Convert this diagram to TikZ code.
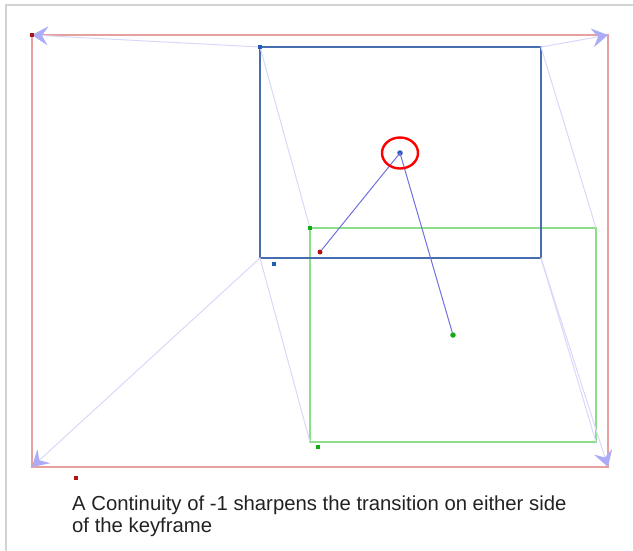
\documentclass[tikz,border=0pt]{standalone}
\usepackage{fontspec}
\setmainfont{Liberation Sans}
\usetikzlibrary{arrows.meta}
\definecolor{keyred}{RGB}{230,160,160}
\definecolor{keyblue}{RGB}{70,110,175}
\definecolor{keygreen}{RGB}{140,222,140}
\definecolor{tangent}{RGB}{216,216,250}
\definecolor{tipblue}{RGB}{172,172,246}
\definecolor{pathblue}{RGB}{112,112,222}
\definecolor{dotred}{RGB}{175,20,20}
\definecolor{dotblue}{RGB}{35,90,190}
\definecolor{dotgreen}{RGB}{20,170,20}
\definecolor{textgray}{RGB}{34,34,34}

\begin{document}
\begin{tikzpicture}[x=1pt,y=-1pt,>={Stealth[length=16pt,width=19pt,inset=6pt,color=tipblue]},line cap=round,
  handle/.style={draw=tangent,line width=1pt},
  sqdot/.style={rectangle,inner sep=0pt,minimum size=4.5pt},
  rddot/.style={circle,inner sep=0pt,minimum size=5.5pt}]
\useasboundingbox (0,0) rectangle (633,550);
\draw[gray!35,line width=2pt] (6,550) -- (6,5) -- (633,5);
\coordinate (rTL) at (32,35);
\coordinate (rTR) at (608,35);
\coordinate (rBL) at (32,467);
\coordinate (rBR) at (608,467);
\coordinate (bTL) at (260,47);
\coordinate (bTR) at (541,47);
\coordinate (bBL) at (260,258);
\coordinate (bBR) at (541,258);
\coordinate (gTL) at (310,228);
\coordinate (gTR) at (596,228);
\coordinate (gBL) at (310,442);
\coordinate (gBR) at (596,442);
\draw[keyred,line width=1.5pt] (rTL) rectangle (rBR);
\draw[keygreen,line width=1.2pt] (gTL) rectangle (gBR);
\draw[keyblue,line width=2.1pt] (bTL) rectangle (bBR);
\draw[handle,->] (bTL) -- (rTL);
\draw[handle,->] (bTR) -- (rTR);
\draw[handle,->] (bBL) -- (rBL);
\draw[handle,->] (bBR) -- (rBR);
\draw[handle] (bTL) -- (gTL);
\draw[handle] (bTR) -- (gTR);
\draw[handle] (bBL) -- (gBL);
\draw[handle] (bBR) -- (gBR);
\node[rddot,fill=dotblue] (anchorB) at (400,153) {};
\node[rddot,fill=dotred,minimum size=5pt] (anchorR) at (320,252) {};
\node[rddot,fill=dotgreen] (anchorG) at (453,335) {};
\draw[pathblue,line width=1pt] (anchorR) -- (anchorB.center) -- (anchorG);
\draw[red,line width=2.4pt] (anchorB.center) ellipse (18pt and 15.5pt);
\node[sqdot,fill=dotred] (cornerR) at (rTL) {};
\node[sqdot,fill=dotblue] (cornerB) at (bTL) {};
\node[sqdot,fill=dotgreen] (cornerG) at (gTL) {};
\node[sqdot,fill=dotred] (pivotR) at (76,478) {};
\node[sqdot,fill=dotblue] (pivotB) at (274,264) {};
\node[sqdot,fill=dotgreen] (pivotG) at (318,447) {};
\node[anchor=base west,align=left,inner sep=0pt,text=textgray,font=\fontsize{20.3}{21.5}\selectfont] (caption) at (72,532)
  {A Continuity of -1 sharpens the transition on either side\\of the keyframe};
\end{tikzpicture}
\end{document}
